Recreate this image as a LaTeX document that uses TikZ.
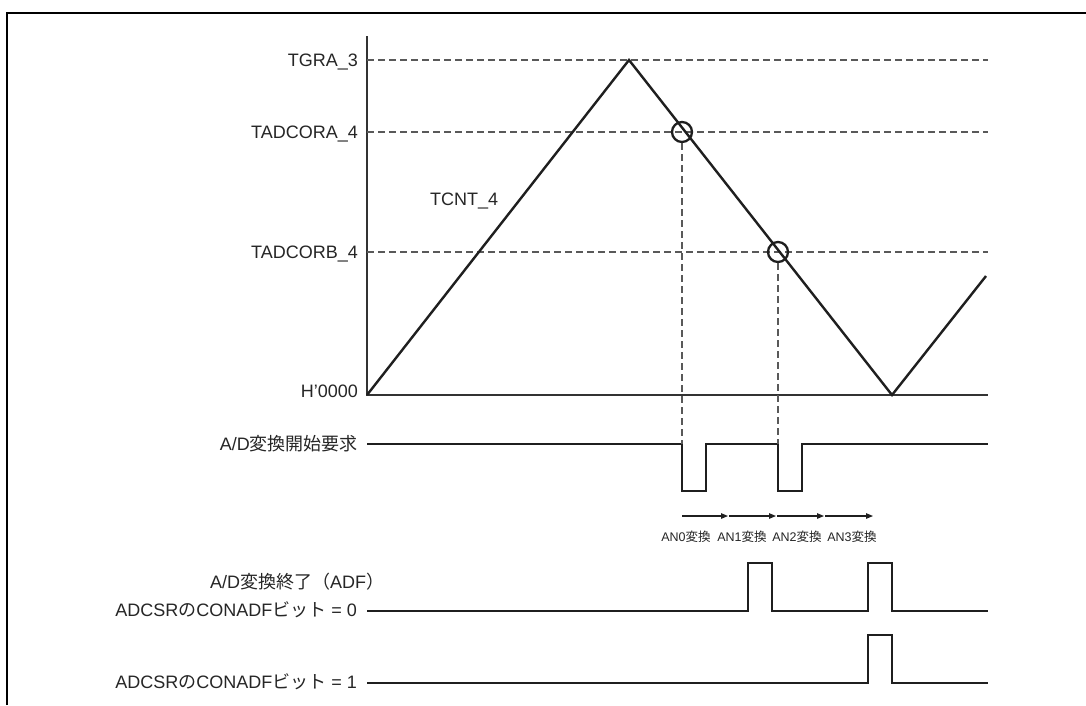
\documentclass[tikz,border=0pt]{standalone}
\usepackage{fontspec}
\setmainfont{Liberation Sans}
\newfontfamily\jp{Noto Sans CJK JP}
\usetikzlibrary{arrows.meta}
\begin{document}
\begin{tikzpicture}[x=1pt,y=-1pt,
  sig/.style={line width=2.4pt,black!88,line join=miter},
  guide/.style={line width=1.3pt,black!65,dash pattern=on 6.5pt off 4.5pt},
  axisline/.style={line width=1.4pt,black!80},
  lbl/.style={anchor=base east,inner sep=0pt,font=\fontsize{18}{20}\selectfont,text=black!85},
  small/.style={anchor=base,inner sep=0pt,font=\fontsize{12.5}{14}\selectfont,text=black!85},
  ring/.style={circle,draw,line width=2.3pt,black!88,minimum size=20pt,inner sep=0pt},
  conv/.style={line width=1.1pt,black!88,-{Triangle[length=7pt,width=5.5pt]}}
]
\useasboundingbox (0,0) rectangle (1086,705);
\fill[white] (0,0) rectangle (1086,705);
% frame
\draw[line width=2.8pt] (7,705) -- (7,13) -- (1086,13);

% axes
\coordinate (O) at (367,395);
\coordinate (Otop) at (367,36);
\coordinate (Oend) at (988,395);
\draw[axisline] (Otop) -- (O) -- (Oend);

% guide lines
\coordinate (g1a) at (367,60);  \coordinate (g1b) at (988,60);
\coordinate (g2a) at (367,132); \coordinate (g2b) at (988,132);
\coordinate (g3a) at (367,252); \coordinate (g3b) at (988,252);
\draw[guide] (g1a) -- (g1b);
\draw[guide] (g2a) -- (g2b);
\draw[guide] (g3a) -- (g3b);

% labels
\node[lbl] (lTGRA) at (358,66.5) {TGRA\_3};
\node[lbl] (lA) at (358,138.5) {TADCORA\_4};
\node[lbl] (lB) at (358,258.5) {TADCORB\_4};
\node[lbl] (lH) at (358,397) {H'0000};
\node[lbl,anchor=base west] (lT) at (430,205) {TCNT\_4};

% counter waveform
\coordinate (peak) at (629,60);
\coordinate (valley) at (892,395);
\coordinate (tend) at (986,276);
\draw[sig] (O) -- (peak) -- (valley) -- (tend);

% compare-match circles
\node[ring] (c1) at (682,132) {};
\node[ring] (c2) at (778,252) {};

% A/D start request
\coordinate (r0) at (367,444);
\coordinate (r1) at (682,444);
\coordinate (r2) at (778,444);
\coordinate (r3) at (988,444);
\draw[sig] (r0) -- (r1) -- (682,491) -- (706,491) -- (706,444) -- (r2) -- (778,491) -- (802,491) -- (802,444) -- (r3);
\draw[guide] (c1.south) -- (r1);
\draw[guide] (c2.south) -- (r2);
\node[lbl] (lreq) at (358,450) {A/D{\jp 変換開始要求}};

% conversion arrows
\coordinate (a0) at (682,516);
\coordinate (a1) at (729,516);
\coordinate (a2) at (777,516);
\coordinate (a3) at (825,516);
\coordinate (a4) at (873,516);
\draw[conv] (a0) -- (728,516);
\draw[conv] (a1) -- (776,516);
\draw[conv] (a2) -- (824,516);
\draw[conv] (a3) -- (a4);
\node[small] (an0) at (686,541) {AN0{\jp 変換}};
\node[small] (an1) at (742,541) {AN1{\jp 変換}};
\node[small] (an2) at (797,541) {AN2{\jp 変換}};
\node[small] (an3) at (852,541) {AN3{\jp 変換}};

% ADF, CONADF=0
\coordinate (d0) at (367,611);
\coordinate (d1) at (988,611);
\draw[sig] (d0) -- (748,611) -- (748,563) -- (772,563) -- (772,611) -- (868,611) -- (868,563) -- (892,563) -- (892,611) -- (d1);
\node[lbl,anchor=base] (ladf) at (297,588) {A/D{\jp 変換終了（}ADF{\jp ）}};
\node[lbl] (l0) at (357,616) {ADCSR{\jp の}CONADF{\jp ビット} = 0};

% CONADF=1
\coordinate (e0) at (367,683);
\coordinate (e1) at (988,683);
\draw[sig] (e0) -- (868,683) -- (868,635) -- (892,635) -- (892,683) -- (e1);
\node[lbl] (l1) at (357,688) {ADCSR{\jp の}CONADF{\jp ビット} = 1};
\end{tikzpicture}
\end{document}
